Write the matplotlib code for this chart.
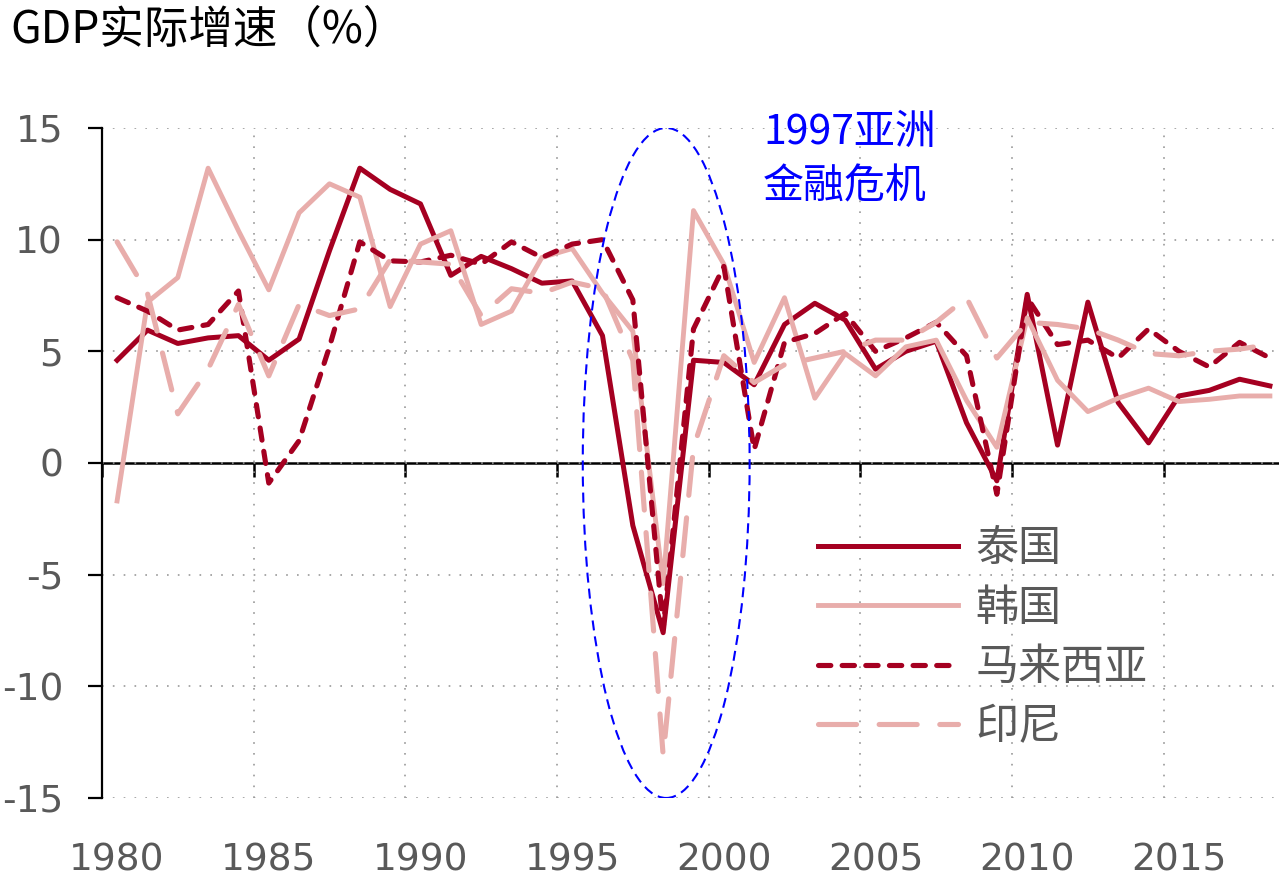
import numpy as np
import matplotlib
matplotlib.use("Agg")
import matplotlib.pyplot as plt
from matplotlib.patches import Ellipse

# GDP real growth (%), 1980-2018
years = np.arange(1980, 2019)
thailand = [4.6, 5.95, 5.35, 5.6, 5.7, 4.6, 5.55, 9.5, 13.2, 12.25,
            11.6, 8.4, 9.25, 8.7, 8.05, 8.15, 5.7, -2.8, -7.6, 4.6,
            4.5, 3.5, 6.2, 7.15, 6.4, 4.2, 5.0, 5.45, 1.8, -0.8,
            7.55, 0.8, 7.2, 2.7, 0.9, 3.0, 3.25, 3.75, 3.45]
korea = [-1.7, 7.2, 8.3, 13.2, 10.4, 7.75, 11.2, 12.5, 11.9, 7.0,
         9.8, 10.4, 6.2, 6.8, 9.2, 9.6, 7.6, 5.9, -5.4, 11.3,
         8.9, 4.5, 7.4, 2.9, 4.9, 3.9, 5.2, 5.5, 2.8, 0.7,
         6.5, 3.7, 2.3, 2.9, 3.35, 2.75, 2.85, 3.0, 3.0]
malaysia = [7.4, 6.8, 5.95, 6.2, 7.7, -0.9, 1.0, 5.2, 9.9, 9.05,
            9.0, 9.3, 8.9, 9.9, 9.2, 9.8, 10.0, 7.3, -7.4, 6.0,
            8.8, 0.6, 5.4, 5.8, 6.7, 5.0, 5.6, 6.3, 4.8, -1.4,
            7.4, 5.3, 5.5, 4.7, 6.0, 5.0, 4.3, 5.4, 4.7]
indonesia = [9.9, 7.6, 2.2, 4.2, 7.1, 3.9, 7.1, 6.6, 6.9, 9.1,
             9.0, 8.9, 6.6, 7.8, 7.6, 8.1, 7.8, 4.6, -13.1, 0.7,
             4.8, 3.6, 4.4, 4.7, 5.0, 5.5, 5.5, 6.3, 7.4, 4.7,
             6.3, 6.2, 6.0, 5.5, 4.9, 4.8, 5.0, 5.1, 5.3]

label_years = [1980, 1985, 1990, 1995, 2000, 2005, 2010, 2015]
y_ticks = [-15, -10, -5, 0, 5, 10, 15]

DARK = "#A50021"
PINK = "#E8ADAB"
GRAY = "#595959"
CJK = ["Noto Sans CJK SC", "DejaVu Sans"]

fig = plt.figure(figsize=(12.79, 8.77), dpi=100)
ax = fig.add_axes([0.0797, 0.0901, 0.9203, 0.7640])

ax.plot(years, thailand, color=DARK, lw=3.6, label="泰国", zorder=4)
ax.plot(years, korea, color=PINK, lw=3.5, label="韩国", zorder=4)
ax.plot(years, malaysia, color=DARK, lw=3.7, dashes=(2.4, 2.2),
        dash_capstyle="round", label="马来西亚", zorder=4)
ax.plot(years, indonesia, color=PINK, lw=3.7, dashes=(7.4, 4.4),
        dash_capstyle="round", label="印尼", zorder=4)

ax.set_xlim(1979.5, 2018.3)
ax.set_ylim(-15, 15)

# category boundaries carry grid + zero-line ticks, labels sit on the categories
bounds = [y - 0.5 for y in label_years]
ax.set_xticks(bounds)
ax.set_xticklabels([])
ax.set_xticks(label_years, minor=True)
ax.set_xticklabels([str(y) for y in label_years], minor=True)
ax.tick_params(axis="x", which="both", length=0, labelsize=27,
               labelcolor=GRAY, pad=32)

ax.set_yticks(y_ticks)
ax.set_yticklabels([str(v) for v in y_ticks])
ax.tick_params(axis="y", direction="out", length=10, width=1.6,
               labelsize=27, labelcolor=GRAY, pad=18)

ax.grid(True, which="major", color="#999999", lw=1.2, linestyle=(0, (1, 5.5)))
ax.spines[["top", "right", "bottom"]].set_visible(False)
ax.spines["left"].set_linewidth(1.6)

sec = ax.secondary_xaxis(0, transform=ax.transData)
sec.set_xticks(bounds)
sec.tick_params(direction="out", length=10, width=1.8, labelbottom=False)
sec.spines["bottom"].set_linewidth(1.8)

ell = Ellipse((1998.1, 0), 5.5, 30, fill=False, edgecolor="blue",
              lw=1.5, linestyle=(0, (4.8, 2.9)), zorder=5)
ax.add_patch(ell)
ax.text(2001.3, 15.7, "1997亚洲\n金融危机", color="blue", fontsize=29.5,
        family=CJK, ha="left", va="top", linespacing=1.4)

fig.text(10 / 1279, 1 - 43 / 877, "GDP实际增速（%）", fontsize=32,
         family=CJK, color="black", va="baseline", ha="left")

leg = ax.legend(loc="upper left", bbox_to_anchor=(818 / 1279, 1 - 527 / 877),
                bbox_transform=fig.transFigure, frameon=False,
                prop={"family": CJK, "size": 31}, labelcolor=GRAY,
                handlelength=3.25, handletextpad=0.4, labelspacing=0.36,
                borderpad=0, borderaxespad=0)

fig.savefig("out.png", dpi=100)
